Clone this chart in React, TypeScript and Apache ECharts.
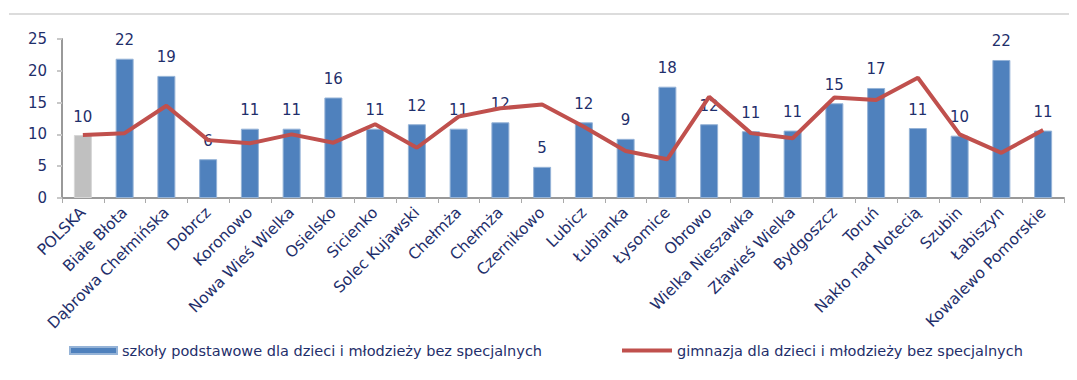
import React, { useEffect, useRef } from "react";
import * as echarts from "echarts";

const categories = [
  "POLSKA", "Białe Błota", "Dąbrowa Chełmińska", "Dobrcz", "Koronowo", "Nowa Wieś Wielka",
  "Osielsko", "Sicienko", "Solec Kujawski", "Chełmża", "Chełmża", "Czernikowo", "Lubicz",
  "Łubianka", "Łysomice", "Obrowo", "Wielka Nieszawka", "Zławieś Wielka", "Bydgoszcz",
  "Toruń", "Nakło nad Notecią", "Szubin", "Łabiszyn", "Kowalewo Pomorskie",
];

const szkolyPodstawowe = [
  9.9, 21.9, 19.2, 6.1, 10.9, 10.9, 15.8, 10.9, 11.6, 10.9, 11.9, 4.9, 11.9,
  9.3, 17.5, 11.6, 10.5, 10.6, 14.9, 17.3, 11.0, 9.8, 21.7, 10.6,
];

const gimnazja = [
  9.9, 10.2, 14.5, 9.1, 8.6, 10.0, 8.7, 11.6, 7.9, 12.8, 14.1, 14.7, 11.2,
  7.4, 6.1, 15.9, 10.2, 9.4, 15.8, 15.4, 18.9, 10.0, 7.1, 10.7,
];

const yTicks = { min: 0, max: 25, interval: 5 };

const seriesNames = [
  "szkoły podstawowe dla dzieci i młodzieży bez specjalnych",
  "gimnazja dla dzieci i młodzieży bez specjalnych",
];

const FONT = "DejaVu Sans";
const TEXT = "#1f2f6b";

export default function App() {
  const ref = useRef<HTMLDivElement>(null);
  useEffect(() => {
    if (!ref.current) return;
    const chart = echarts.init(ref.current, null, { renderer: "svg" });
    chart.setOption({
      animation: false,
      textStyle: { fontFamily: FONT, color: TEXT },
      graphic: [
        {
          type: "line",
          shape: { x1: 1, y1: 6, x2: 1077, y2: 6 },
          style: { stroke: "#dcdcdc", lineWidth: 2 },
        },
      ],
      grid: { left: 54, right: 13, top: 31, bottom: 182 },
      legend: [
        {
          data: [seriesNames[0]],
          left: 56,
          top: 330,
          itemWidth: 47,
          itemHeight: 7,
          icon: "rect",
          textStyle: { fontFamily: FONT, fontSize: 14.5, color: TEXT },
        },
        {
          data: [seriesNames[1]],
          left: 609,
          top: 330,
          itemWidth: 50,
          itemHeight: 4,
          icon: "rect",
          textStyle: { fontFamily: FONT, fontSize: 14.5, color: TEXT },
        },
      ],
      xAxis: {
        type: "category",
        data: categories,
        boundaryGap: true,
        axisLine: { lineStyle: { color: "#999999", width: 2 } },
        axisTick: { show: true, length: 5, lineStyle: { color: "#aaaaaa", width: 1 } },
        axisLabel: {
          rotate: 45,
          interval: 0,
          margin: 12,
          fontFamily: FONT,
          fontSize: 15.5,
          color: TEXT,
        },
      },
      yAxis: {
        type: "value",
        min: yTicks.min,
        max: yTicks.max,
        interval: yTicks.interval,
        splitLine: { show: false },
        axisLine: { show: true, lineStyle: { color: "#999999", width: 2 } },
        axisTick: { show: true, length: 5, lineStyle: { color: "#c8c8c8", width: 2 } },
        axisLabel: { margin: 15, fontFamily: FONT, fontSize: 15, color: TEXT },
      },
      series: [
        {
          name: seriesNames[0],
          type: "bar",
          barWidth: 18,
          data: szkolyPodstawowe.map((v, i) =>
            i === 0
              ? { value: v, itemStyle: { color: "#c0c0c0", borderColor: "#d6d6d6" } }
              : v
          ),
          itemStyle: { color: "#4f81bd", borderColor: "#95b3d7", borderWidth: 1 },
          label: {
            show: true,
            position: "top",
            distance: 11,
            fontFamily: FONT,
            fontSize: 15,
            color: TEXT,
            formatter: (p: any) => String(Math.round(p.value)),
          },
        },
        {
          name: seriesNames[1],
          type: "line",
          data: gimnazja,
          symbol: "none",
          color: "#c0504d",
          lineStyle: { color: "#c0504d", width: 4 },
          z: 3,
        },
      ],
    });
    return () => chart.dispose();
  }, []);
  return <div ref={ref} style={{ width: 1069, height: 372 }} />;
}
